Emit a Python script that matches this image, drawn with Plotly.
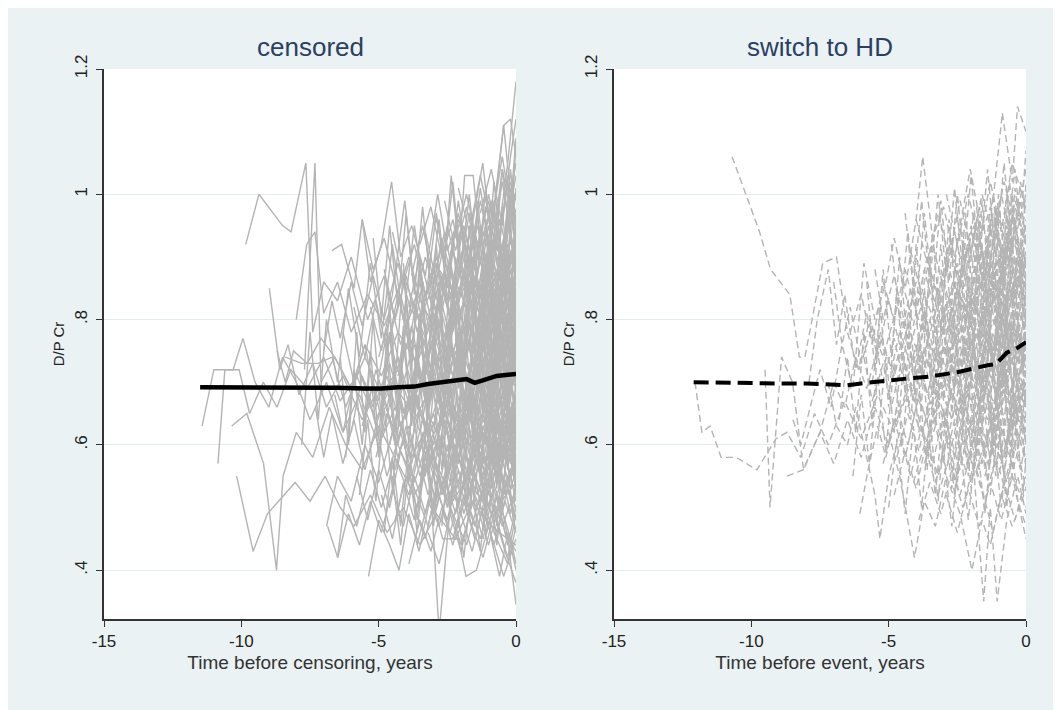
import plotly.graph_objects as go

# grey individual trajectories, (time, D/P Cr) pairs
censored_paths = [
    [(-9.84,.92),(-9.36,1.0),(-8.5,.95),(-8.19,.94),(-7.65,1.05),(-7.4,.78),(-7.0,.86),(-6.5,.83),(-6.0,.90),(-5.4,.80),(-4.8,.87),(-4.2,.76),(-3.6,.84),(-3.0,.79),(-2.4,.88),(-1.8,.82),(-1.2,.91),(-0.6,.85),(0,.93)],
    [(-11.43,.63),(-11.0,.72),(-10.08,.72),(-9.7,.65),(-9.2,.70),(-8.7,.66),(-8.2,.72),(-7.6,.69),(-7.0,.74),(-6.4,.67),(-5.8,.71),(-5.1,.64),(-4.5,.70),(-3.9,.66),(-3.2,.72),(-2.6,.68),(-1.9,.63),(-1.3,.69),(-0.7,.66),(0,.71)],
    [(-10.85,.57),(-10.6,.72),(-10.3,.72),(-9.94,.77),(-9.5,.70),(-9.0,.66),(-8.5,.74),(-8.0,.70),(-7.5,.64),(-6.9,.70),(-6.3,.62),(-5.7,.68),(-5.0,.60),(-4.4,.66),(-3.8,.58),(-3.1,.64),(-2.5,.59),(-1.8,.66),(-1.1,.61),(-0.5,.57),(0,.63)],
    [(-10.35,.63),(-9.8,.65),(-9.19,.57),(-8.72,.40),(-8.48,.55),(-8.0,.62),(-7.4,.58),(-6.8,.66),(-6.2,.60),(-5.6,.56),(-5.0,.63),(-4.3,.57),(-3.7,.52),(-3.0,.58),(-2.3,.51),(-1.6,.56),(-0.9,.49),(0,.54)],
    [(-10.17,.55),(-9.57,.43),(-9.05,.49),(-8.04,.54),(-7.5,.51),(-6.95,.55),(-6.4,.50),(-5.9,.47),(-5.3,.52),(-4.7,.46),(-4.1,.50),(-3.5,.44),(-2.9,.49),(-2.2,.45),(-1.6,.51),(-0.9,.47),(0,.44)],
    [(-8.98,.85),(-8.6,.72),(-8.3,.76),(-7.9,.68),(-7.4,.73),(-6.9,.66),(-6.3,.71),(-5.6,.64),(-5.0,.69),(-4.4,.62),(-3.7,.67),(-3.1,.61),(-2.4,.66),(-1.7,.60),(-1.0,.64),(0,.59)],
    [(-8.0,.80),(-7.62,.92),(-7.32,.94),(-7.0,.81),(-6.5,.86),(-6.0,.78),(-5.4,.84),(-4.8,.79),(-4.1,.87),(-3.5,.80),(-2.8,.88),(-2.1,.83),(-1.4,.90),(-0.7,.84),(0,.92)],
    [(-7.7,.72),(-7.32,1.05),(-7.1,.70),(-6.6,.74),(-6.0,.69),(-5.5,.76),(-4.9,.71),(-4.3,.78),(-3.6,.73),(-3.0,.81),(-2.3,.75),(-1.6,.83),(-0.8,.78),(0,.86)],
    [(-8.7,.75),(-8.4,.70),(-8.1,.75),(-7.6,.73),(-7.1,.77),(-6.6,.74),(-6.0,.69),(-5.5,.74),(-4.9,.68),(-4.3,.72),(-3.7,.64),(-3.0,.70),(-2.3,.62),(-1.6,.68),(-0.8,.60),(0,.66)],
    [(-8.4,.74),(-7.8,.73),(-7.2,.73),(-6.7,.74),(-6.2,.66),(-5.7,.72),(-5.2,.65),(-4.7,.71),(-4.2,.63),(-3.7,.69),(-3.2,.61),(-2.7,.67),(-2.2,.59),(-1.7,.65),(-1.2,.57),(-0.6,.63),(0,.56)],
    [(-7.8,.60),(-7.5,.78),(-7.2,.64),(-6.9,.80),(-6.5,.70),(-6.1,.85),(-5.7,.74),(-5.3,.89),(-4.9,.77),(-4.5,.92),(-4.1,.80),(-3.7,.95),(-3.3,.83),(-2.9,.97),(-2.5,.85),(-2.1,.99),(-1.7,.88),(-1.3,1.01),(-0.9,.90),(-0.5,1.04),(0,.93)],
    [(-7.3,.66),(-7.0,.58),(-6.7,.65),(-6.3,.57),(-5.9,.64),(-5.5,.56),(-5.1,.63),(-4.7,.55),(-4.2,.62),(-3.7,.54),(-3.2,.61),(-2.7,.53),(-2.2,.60),(-1.7,.52),(-1.2,.59),(-0.6,.51),(0,.57)],
    [(-7.0,.75),(-6.7,.83),(-6.4,.77),(-6.0,.86),(-5.6,.79),(-5.2,.87),(-4.8,.80),(-4.3,.89),(-3.8,.81),(-3.3,.90),(-2.8,.82),(-2.3,.91),(-1.8,.84),(-1.3,.93),(-0.8,.86),(-0.3,.95),(0,.89)],
    [(-6.86,.47),(-6.49,.42),(-6.1,.49),(-5.7,.44),(-5.3,.51),(-4.9,.46),(-4.5,.53),(-4.1,.47),(-3.7,.55),(-3.3,.49),(-2.9,.57),(-2.5,.50),(-2.1,.58),(-1.7,.52),(-1.3,.60),(-0.9,.53),(-0.5,.61),(0,.55)],
    [(-6.6,.68),(-6.3,.62),(-5.9,.70),(-5.5,.64),(-5.1,.72),(-4.7,.66),(-4.3,.74),(-3.9,.68),(-3.5,.76),(-3.1,.69),(-2.7,.77),(-2.3,.71),(-1.9,.79),(-1.5,.72),(-1.1,.80),(-0.7,.73),(-0.3,.81),(0,.76)],
    [(-6.9,.47),(-6.5,.55),(-6.0,.51),(-5.5,.60),(-5.0,.54),(-4.5,.62),(-4.0,.57),(-3.5,.66),(-3.0,.60),(-2.5,.69),(-2.0,.63),(-1.5,.72),(-1.0,.66),(-0.5,.74),(0,.69)],
    [(-6.7,.91),(-6.35,.92),(-5.9,.85),(-5.6,.96),(-5.2,.88),(-4.8,.93),(-4.3,.84),(-3.9,.90),(-3.4,.82),(-2.9,.89),(-2.4,.80),(-1.9,.87),(-1.4,.79),(-0.9,.86),(-0.4,.78),(0,.84)],
    [(-6.5,.42),(-6.2,.52),(-5.8,.47),(-5.3,.56),(-4.9,.50),(-4.4,.58),(-3.9,.52),(-3.4,.61),(-2.9,.55),(-2.4,.50),(-1.9,.57),(-1.4,.52),(-0.9,.60),(-0.4,.54),(0,.58)],
    [(-6.3,.78),(-5.9,.70),(-5.5,.76),(-5.1,.67),(-4.6,.73),(-4.1,.65),(-3.6,.72),(-3.1,.64),(-2.6,.70),(-2.1,.62),(-1.6,.69),(-1.1,.60),(-0.6,.67),(0,.61)],
    [(-6.0,.62),(-5.6,.71),(-5.2,.66),(-4.7,.78),(-4.3,.72),(-3.8,.83),(-3.3,.77),(-2.8,.86),(-2.3,.80),(-1.8,.90),(-1.3,.84),(-0.8,.93),(-0.3,.87),(0,.95)],
    [(-5.8,.55),(-5.4,.48),(-5.0,.56),(-4.6,.50),(-4.2,.59),(-3.7,.53),(-3.2,.47),(-2.8,.55),(-2.3,.49),(-1.8,.44),(-1.3,.52),(-0.8,.46),(-0.3,.41),(0,.47)],
    [(-5.6,.96),(-5.3,.86),(-4.9,.92),(-4.53,1.02),(-4.2,.90),(-3.8,.95),(-3.3,.87),(-2.85,1.0),(-2.5,.91),(-2.1,.96),(-1.6,.88),(-1.2,.94),(-0.7,.86),(-0.3,.92),(0,.88)],
    [(-5.5,.70),(-5.1,.63),(-4.7,.69),(-4.3,.61),(-3.9,.67),(-3.5,.59),(-3.0,.65),(-2.6,.57),(-2.1,.63),(-1.7,.56),(-1.2,.62),(-0.7,.55),(-0.3,.60),(0,.53)],
    [(-5.37,.39),(-5.0,.48),(-4.6,.44),(-4.26,.40),(-3.9,.49),(-3.53,.43),(-3.1,.52),(-2.67,.45),(-2.1,.45),(-1.82,.39),(-1.44,.40),(-1.0,.47),(-0.45,.39),(0,.45)],
    [(-5.3,.82),(-4.9,.75),(-4.5,.84),(-4.05,.99),(-3.7,.85),(-3.3,.78),(-2.9,.86),(-2.5,.79),(-2.0,.88),(-1.6,.81),(-1.1,.90),(-0.6,.83),(-0.2,.91),(0,.86)],
    [(-5.1,.58),(-4.7,.65),(-4.3,.60),(-3.9,.68),(-3.5,.62),(-3.1,.71),(-2.7,.65),(-2.3,.74),(-1.9,.67),(-1.5,.76),(-1.1,.70),(-0.7,.79),(-0.3,.72),(0,.80)],
    [(-5.0,.74),(-4.6,.80),(-4.2,.72),(-3.8,.79),(-3.4,.70),(-3.0,.77),(-2.6,.68),(-2.2,.75),(-1.8,.66),(-1.4,.73),(-1.0,.64),(-0.6,.71),(-0.2,.62),(0,.68)],
    [(-4.9,.52),(-4.5,.45),(-4.1,.54),(-3.7,.48),(-3.3,.57),(-2.9,.51),(-2.5,.60),(-2.1,.53),(-1.7,.62),(-1.3,.55),(-0.9,.64),(-0.5,.57),(0,.66)],
    [(-4.8,.88),(-4.4,.80),(-4.0,.87),(-3.6,.78),(-3.2,.85),(-2.8,.76),(-2.36,1.03),(-2.0,.88),(-1.6,.95),(-1.21,1.05),(-0.9,.93),(-0.45,1.11),(-0.2,1.0),(0,1.05)],
    [(-4.7,.66),(-4.3,.58),(-3.9,.63),(-3.5,.55),(-3.1,.61),(-2.7,.52),(-2.3,.58),(-1.9,.49),(-1.5,.55),(-1.1,.46),(-0.7,.52),(-0.3,.44),(0,.50)],
    [(-4.6,.60),(-4.2,.68),(-3.8,.75),(-3.4,.69),(-3.0,.78),(-2.6,.72),(-2.2,.81),(-1.8,.74),(-1.4,.84),(-1.0,.77),(-0.6,.87),(-0.2,.80),(0,.90)],
    [(-4.5,.94),(-4.1,.86),(-3.7,.92),(-3.3,.84),(-2.9,.90),(-2.5,.82),(-2.1,.89),(-1.87,1.03),(-1.56,1.03),(-1.3,.92),(-0.9,.98),(-0.5,.90),(-0.2,.97),(0,1.0)],
    [(-4.4,.48),(-4.0,.55),(-3.6,.50),(-3.2,.58),(-2.8,.52),(-2.4,.46),(-2.0,.53),(-1.6,.47),(-1.2,.42),(-0.8,.49),(-0.4,.43),(0,.38)],
    [(-4.3,.71),(-3.9,.77),(-3.5,.70),(-3.1,.76),(-2.7,.69),(-2.3,.75),(-1.9,.68),(-1.5,.74),(-1.1,.67),(-0.7,.73),(-0.3,.66),(0,.72)],
    [(-4.2,.63),(-3.8,.57),(-3.4,.64),(-3.0,.58),(-2.6,.66),(-2.2,.59),(-1.8,.67),(-1.4,.60),(-1.0,.69),(-0.6,.62),(-0.2,.70),(0,.64)],
    [(-3.9,.82),(-3.5,.90),(-3.1,.83),(-2.7,.93),(-2.3,.86),(-1.9,.95),(-1.5,.88),(-1.1,.98),(-0.7,.91),(-0.3,1.02),(0,.96)],
    [(-3.8,.55),(-3.4,.62),(-3.0,.56),(-2.6,.64),(-2.2,.58),(-1.8,.66),(-1.4,.60),(-1.0,.53),(-0.6,.61),(-0.2,.55),(0,.60)],
    [(-3.7,.76),(-3.3,.68),(-2.9,.74),(-2.5,.66),(-2.1,.72),(-1.7,.64),(-1.3,.70),(-0.9,.62),(-0.5,.68),(0,.74)],
    [(-3.6,.44),(-3.2,.51),(-2.8,.47),(-2.4,.54),(-2.0,.49),(-1.6,.57),(-1.2,.51),(-0.8,.59),(-0.4,.53),(0,.57)],
    [(-3.5,.92),(-3.1,.98),(-2.7,.90),(-2.3,.96),(-1.9,.87),(-1.5,.94),(-1.1,.85),(-0.7,.92),(-0.3,.84),(0,.90)],
    [(-3.4,.66),(-3.0,.72),(-2.6,.65),(-2.2,.73),(-1.8,.67),(-1.4,.75),(-1.0,.68),(-0.6,.76),(-0.2,.70),(0,.77)],
    [(-3.3,.58),(-2.9,.50),(-2.5,.57),(-2.1,.50),(-1.7,.58),(-1.3,.51),(-0.9,.59),(-0.5,.52),(0,.58)],
    [(-3.2,.86),(-2.8,.79),(-2.4,.88),(-2.0,.81),(-1.6,.90),(-1.2,.83),(-0.8,.92),(-0.4,.85),(0,.94)],
    [(-3.1,.70),(-2.7,.63),(-2.3,.71),(-1.9,.64),(-1.5,.72),(-1.1,.65),(-0.7,.73),(-0.3,.66),(0,.72)],
    [(-3.0,.48),(-2.6,.55),(-2.2,.49),(-1.8,.56),(-1.4,.50),(-1.0,.44),(-0.6,.51),(-0.2,.45),(0,.41)],
    [(-2.9,.96),(-2.5,.88),(-2.1,.97),(-1.7,.89),(-1.3,.99),(-0.9,.91),(-0.5,1.02),(-0.2,.94),(0,1.08)],
    [(-2.8,.62),(-2.4,.69),(-2.0,.61),(-1.6,.68),(-1.2,.60),(-0.8,.67),(-0.4,.59),(0,.65)],
    [(-2.7,.78),(-2.3,.71),(-1.9,.79),(-1.5,.72),(-1.1,.80),(-0.7,.73),(-0.3,.81),(0,.75)],
    [(-2.6,.53),(-2.2,.60),(-1.8,.54),(-1.4,.62),(-1.0,.56),(-0.6,.64),(-0.2,.57),(0,.62)],
    [(-2.5,.88),(-2.1,.80),(-1.7,.86),(-1.3,.78),(-0.9,.85),(-0.5,.77),(-0.1,.84),(0,.80)],
    [(-2.4,.68),(-2.0,.76),(-1.6,.70),(-1.2,.78),(-0.8,.71),(-0.4,.79),(0,.72)],
    [(-2.3,.45),(-1.9,.52),(-1.5,.47),(-1.1,.54),(-0.7,.48),(-0.3,.42),(0,.49)],
    [(-2.2,.93),(-1.8,1.00),(-1.4,.92),(-1.0,.99),(-0.6,.90),(-0.2,.98),(0,1.03)],
    [(-2.1,.60),(-1.7,.66),(-1.3,.58),(-0.9,.65),(-0.5,.57),(-0.1,.64),(0,.60)],
    [(-2.0,.74),(-1.6,.66),(-1.2,.73),(-0.8,.65),(-0.4,.72),(0,.67)],
    [(-1.9,.83),(-1.5,.76),(-1.1,.84),(-0.7,.77),(-0.3,.86),(0,.79)],
    [(-1.8,.51),(-1.4,.58),(-1.0,.52),(-0.6,.59),(-0.2,.53),(0,.56)],
    [(-1.7,.64),(-1.3,.71),(-0.9,.63),(-0.5,.70),(-0.1,.62),(0,.68)],
    [(-1.6,.90),(-1.2,.82),(-0.8,.89),(-0.4,.81),(0,.87)],
    [(-1.5,.70),(-1.1,.77),(-0.7,.69),(-0.3,.76),(0,.71)],
    [(-1.4,.57),(-1.0,.50),(-0.6,.57),(-0.2,.49),(0,.54)],
    [(-1.3,.97),(-0.9,1.04),(-0.5,.95),(-0.2,1.06),(0,1.12)],
    [(-1.2,.76),(-0.8,.83),(-0.4,.75),(0,.82)],
    [(-1.1,.62),(-0.7,.55),(-0.3,.63),(0,.58)],
    [(-1.0,.86),(-0.6,.79),(-0.2,.88),(0,.83)],
    [(-0.9,.45),(-0.6,.39),(-0.3,.46),(0,.40)],
    [(-0.5,.66),(-0.2,.74),(0,.69)],
    [(-3.9,.62),(-3.6,.69),(-3.2,.74),(-2.8,.67),(-2.4,.77),(-2.0,.70),(-1.6,.79),(-1.2,.73),(-0.8,.82),(-0.4,.75),(0,.84)],
    [(-3.7,.50),(-3.3,.45),(-2.9,.53),(-2.5,.48),(-2.1,.56),(-1.7,.50),(-1.3,.45),(-0.9,.52),(-0.5,.47),(0,.53)],
    [(-3.5,.79),(-3.1,.72),(-2.7,.81),(-2.3,.74),(-1.9,.83),(-1.5,.76),(-1.1,.85),(-0.7,.78),(-0.3,.88),(0,.82)],
    [(-3.3,.94),(-2.9,.86),(-2.5,.95),(-2.1,.87),(-1.7,.97),(-1.3,.89),(-0.9,.99),(-0.5,.91),(-0.2,1.0),(0,.97)],
    [(-3.1,.57),(-2.7,.64),(-2.3,.59),(-1.9,.53),(-1.5,.61),(-1.1,.55),(-0.7,.63),(-0.3,.57),(0,.51)],
    [(-2.9,.73),(-2.5,.79),(-2.1,.70),(-1.7,.77),(-1.3,.68),(-0.9,.75),(-0.5,.66),(-0.1,.73),(0,.70)],
    [(-2.7,.91),(-2.3,.84),(-1.9,.92),(-1.5,.85),(-1.1,.94),(-0.7,.87),(-0.3,.96),(0,.90)],
    [(-2.5,.64),(-2.1,.57),(-1.7,.65),(-1.3,.58),(-0.9,.66),(-0.5,.59),(-0.1,.67),(0,.63)],
    [(-3.2,.60),(-2.8,.30),(-2.4,.50),(-2.0,.44),(-1.5,.52),(-1.0,.47),(-0.5,.55),(0,.50)],
    [(-0.6,.52),(-0.3,.45),(0,.345)],
    [(-0.6,.95),(-0.3,1.05),(0,1.18)],
    [(-0.8,.98),(-0.45,1.11),(-0.2,1.12),(0,1.06)],
    [(-4.0,.73),(-3.6,.66),(-3.3,.75),(-2.9,.69),(-2.5,.78),(-2.1,.71),(-1.7,.80),(-1.3,.74),(-0.9,.83),(-0.5,.76),(0,.85)],
    [(-3.8,.87),(-3.4,.95),(-3.0,.86),(-2.6,.94),(-2.2,.85),(-1.8,.93),(-1.4,.84),(-1.0,.95),(-0.6,.87),(-0.2,.97),(0,.92)],
    [(-3.6,.59),(-3.2,.52),(-2.8,.60),(-2.4,.54),(-2.0,.62),(-1.6,.55),(-1.2,.63),(-0.8,.56),(-0.4,.64),(0,.59)],
    [(-3.4,.72),(-3.0,.80),(-2.6,.73),(-2.2,.81),(-1.8,.74),(-1.4,.82),(-1.0,.75),(-0.6,.84),(-0.2,.77),(0,.81)],
    [(-3.2,.46),(-2.8,.41),(-2.4,.49),(-2.0,.43),(-1.6,.51),(-1.2,.45),(-0.8,.53),(-0.4,.46),(0,.43)],
    [(-3.0,.83),(-2.6,.76),(-2.2,.84),(-1.8,.77),(-1.4,.86),(-1.0,.79),(-0.6,.88),(-0.2,.81),(0,.86)],
    [(-2.8,.67),(-2.4,.60),(-2.0,.68),(-1.6,.61),(-1.2,.69),(-0.8,.62),(-0.4,.70),(0,.64)],
    [(-2.6,.99),(-2.2,.91),(-1.8,.98),(-1.4,.90),(-1.0,1.0),(-0.6,.92),(-0.3,1.03),(0,.99)],
    [(-2.4,.56),(-2.0,.63),(-1.6,.57),(-1.2,.65),(-0.8,.58),(-0.4,.66),(0,.61)],
    [(-2.2,.77),(-1.8,.70),(-1.4,.79),(-1.0,.72),(-0.6,.81),(-0.2,.74),(0,.78)],
    [(-2.0,.49),(-1.6,.43),(-1.2,.50),(-0.8,.44),(-0.4,.51),(0,.46)],
    [(-1.8,.88),(-1.4,.95),(-1.0,.87),(-0.6,.96),(-0.2,.89),(0,.94)],
    [(-1.6,.62),(-1.2,.69),(-0.8,.61),(-0.4,.68),(0,.62)],
    [(-1.4,.80),(-1.0,.73),(-0.6,.82),(-0.2,.75),(0,.79)],
    [(-1.2,.53),(-0.8,.60),(-0.4,.52),(0,.57)],
    [(-1.0,.69),(-0.6,.76),(-0.2,.68),(0,.73)],
    [(-0.8,.92),(-0.5,.84),(-0.2,.93),(0,.87)],
    [(-0.7,.58),(-0.4,.65),(0,.60)],
    [(-4.6,.77),(-4.2,.84),(-3.8,.76),(-3.4,.86),(-3.0,.78),(-2.6,.88),(-2.2,.80),(-1.8,.89),(-1.4,.82),(-1.0,.91),(-0.6,.83),(-0.2,.93),(0,.88)],
    [(-4.4,.56),(-4.0,.63),(-3.6,.57),(-3.2,.65),(-2.8,.58),(-2.4,.66),(-2.0,.59),(-1.6,.67),(-1.2,.60),(-0.8,.68),(-0.4,.61),(0,.66)],
    [(-5.6,.63),(-5.2,.70),(-4.8,.62),(-4.4,.71),(-4.0,.64),(-3.6,.73),(-3.2,.65),(-2.8,.74),(-2.4,.66),(-2.0,.75),(-1.6,.67),(-1.2,.76),(-0.8,.68),(-0.4,.77),(0,.70)],
    [(-5.9,.82),(-5.5,.74),(-5.1,.83),(-4.7,.75),(-4.3,.84),(-3.9,.76),(-3.5,.86),(-3.1,.77),(-2.7,.87),(-2.3,.78),(-1.9,.88),(-1.5,.80),(-1.1,.90),(-0.7,.81),(-0.3,.91),(0,.84)],
    [(-3.9,.41),(-3.5,.48),(-3.1,.43),(-2.7,.50),(-2.3,.44),(-1.9,.51),(-1.5,.45),(-1.1,.52),(-0.7,.46),(-0.3,.53),(0,.48)],
    [(-2.1,1.01),(-1.7,.94),(-1.3,1.03),(-0.9,.95),(-0.5,1.06),(-0.2,.98),(0,1.09)],
    [(-2.9,.58),(-2.6,.72),(-2.3,.61),(-2.0,.77),(-1.7,.64),(-1.4,.80),(-1.1,.66),(-0.8,.83),(-0.5,.69),(-0.2,.85),(0,.74)],
    [(-2.8,.84),(-2.5,.68),(-2.2,.86),(-1.9,.70),(-1.6,.88),(-1.3,.72),(-1.0,.90),(-0.7,.74),(-0.4,.92),(0,.78)],
    [(-2.7,.47),(-2.4,.60),(-2.1,.50),(-1.8,.63),(-1.5,.52),(-1.2,.66),(-0.9,.54),(-0.6,.68),(-0.3,.56),(0,.70)],
    [(-2.6,.90),(-2.3,1.02),(-2.0,.89),(-1.7,1.0),(-1.4,.87),(-1.1,1.01),(-0.8,.88),(-0.5,1.04),(-0.2,.92),(0,1.01)],
    [(-2.5,.71),(-2.2,.55),(-1.9,.73),(-1.6,.57),(-1.3,.75),(-1.0,.58),(-0.7,.77),(-0.4,.60),(0,.79)],
    [(-2.4,.62),(-2.1,.78),(-1.8,.63),(-1.5,.81),(-1.2,.65),(-0.9,.84),(-0.6,.67),(-0.3,.87),(0,.71)],
    [(-2.3,.83),(-2.0,.95),(-1.7,.82),(-1.4,.97),(-1.1,.83),(-0.8,.99),(-0.5,.85),(-0.2,1.01),(0,.89)],
    [(-2.2,.52),(-1.9,.42),(-1.6,.54),(-1.3,.43),(-1.0,.55),(-0.7,.44),(-0.4,.56),(0,.46)],
    [(-2.1,.69),(-1.8,.84),(-1.5,.70),(-1.2,.86),(-0.9,.71),(-0.6,.88),(-0.3,.73),(0,.90)],
    [(-2.0,.58),(-1.7,.73),(-1.4,.59),(-1.1,.75),(-0.8,.61),(-0.5,.77),(-0.2,.62),(0,.70)],
    [(-1.9,.93),(-1.6,.81),(-1.3,.95),(-1.0,.83),(-0.7,.97),(-0.4,.85),(-0.1,1.0),(0,.92)],
    [(-1.8,.76),(-1.5,.61),(-1.2,.78),(-0.9,.62),(-0.6,.80),(-0.3,.64),(0,.82)],
    [(-1.7,.48),(-1.4,.62),(-1.1,.49),(-0.8,.64),(-0.5,.51),(-0.2,.66),(0,.55)],
    [(-1.6,.85),(-1.3,.70),(-1.0,.87),(-0.7,.71),(-0.4,.90),(-0.1,.74),(0,.85)],
    [(-1.5,.64),(-1.2,.79),(-0.9,.65),(-0.6,.81),(-0.3,.66),(0,.76)],
    [(-1.4,.99),(-1.1,.87),(-0.8,1.02),(-0.5,.89),(-0.2,1.04),(0,.95)],
    [(-1.3,.55),(-1.0,.68),(-0.7,.54),(-0.4,.70),(-0.1,.56),(0,.64)],
    [(-1.2,.72),(-0.9,.88),(-0.6,.73),(-0.3,.90),(0,.77)],
    [(-1.1,.81),(-0.8,.66),(-0.5,.83),(-0.2,.67),(0,.80)],
    [(-1.0,.60),(-0.7,.47),(-0.4,.62),(-0.1,.48),(0,.55)],
    [(-0.9,.73),(-0.6,.91),(-0.3,.78),(0,.96)],
    [(-0.7,.84),(-0.4,.68),(-0.1,.86),(0,.74)],
    [(-0.5,.50),(-0.3,.63),(0,.52)],
    [(-0.4,.88),(-0.2,1.0),(0,.91)],
    [(-4.9,.63),(-4.6,.78),(-4.3,.64),(-4.0,.80),(-3.7,.65),(-3.4,.82),(-3.1,.67),(-2.8,.84),(-2.5,.69),(-2.2,.86),(-1.9,.70),(-1.6,.88),(-1.3,.72),(-1.0,.89),(-0.7,.74),(-0.4,.91),(0,.77)],
    [(-4.7,.86),(-4.4,.70),(-4.1,.88),(-3.8,.72),(-3.5,.90),(-3.2,.73),(-2.9,.92),(-2.6,.75),(-2.3,.93),(-2.0,.77),(-1.7,.95),(-1.4,.78),(-1.1,.96),(-0.8,.80),(-0.5,.98),(-0.2,.82),(0,.95)],
    [(-4.5,.55),(-4.2,.44),(-3.9,.57),(-3.6,.46),(-3.3,.59),(-3.0,.47),(-2.7,.61),(-2.4,.49),(-2.1,.63),(-1.8,.50),(-1.5,.64),(-1.2,.52),(-0.9,.66),(-0.6,.53),(-0.3,.67),(0,.56)],
    [(-4.2,.74),(-3.9,.60),(-3.6,.76),(-3.3,.61),(-3.0,.78),(-2.7,.63),(-2.4,.80),(-2.1,.64),(-1.8,.82),(-1.5,.66),(-1.2,.84),(-0.9,.67),(-0.6,.85),(-0.3,.69),(0,.83)],
    [(-3.8,.67),(-3.5,.81),(-3.2,.66),(-2.9,.82),(-2.6,.68),(-2.3,.84),(-2.0,.69),(-1.7,.86),(-1.4,.71),(-1.1,.88),(-0.8,.72),(-0.5,.90),(-0.2,.74),(0,.84)],
    [(-3.5,.53),(-3.2,.66),(-2.9,.51),(-2.6,.67),(-2.3,.53),(-2.0,.69),(-1.7,.54),(-1.4,.70),(-1.1,.56),(-0.8,.72),(-0.5,.57),(-0.2,.73),(0,.62)],
    [(-5.3,.72),(-5.0,.58),(-4.7,.74),(-4.4,.60),(-4.1,.77),(-3.8,.63),(-3.5,.79),(-3.2,.64),(-2.9,.81),(-2.6,.66),(-2.3,.83),(-2.0,.67),(-1.7,.85),(-1.4,.69),(-1.1,.87),(-0.8,.70),(-0.5,.89),(0,.73)],
    [(-6.2,.58),(-5.9,.72),(-5.6,.60),(-5.3,.75),(-5.0,.61),(-4.7,.77),(-4.4,.62),(-4.1,.79),(-3.8,.64),(-3.5,.81),(-3.2,.65),(-2.9,.82),(-2.6,.67),(-2.3,.84),(-2.0,.68),(-1.7,.86),(-1.4,.70),(-1.1,.87),(-0.8,.71),(-0.5,.89),(0,.80)],
    [(-5.2,.93),(-4.9,.80),(-4.6,.95),(-4.3,.82),(-4.0,.97),(-3.7,.84),(-3.4,.98),(-3.1,.85),(-2.8,.96),(-2.5,.83),(-2.2,.95),(-1.9,.82),(-1.6,.94),(-1.3,.81),(-1.0,.93),(-0.7,.80),(-0.4,.92),(0,.87)],
    [(-4.8,.46),(-4.5,.58),(-4.2,.47),(-3.9,.60),(-3.6,.48),(-3.3,.61),(-3.0,.49),(-2.7,.62),(-2.4,.50),(-2.1,.63),(-1.8,.51),(-1.5,.64),(-1.2,.52),(-0.9,.65),(-0.6,.53),(-0.3,.66),(0,.54)],
    [(-4.1,.89),(-3.8,.74),(-3.5,.88),(-3.2,.73),(-2.9,.87),(-2.6,.72),(-2.3,.86),(-2.0,.71),(-1.7,.85),(-1.4,.70),(-1.1,.84),(-0.8,.69),(-0.5,.83),(0,.72)],
    [(-3.7,.58),(-3.4,.72),(-3.1,.57),(-2.8,.71),(-2.5,.56),(-2.2,.70),(-1.9,.55),(-1.6,.69),(-1.3,.54),(-1.0,.68),(-0.7,.53),(-0.4,.67),(0,.58)],
    [(-5.7,.52),(-5.4,.64),(-5.1,.51),(-4.8,.66),(-4.5,.53),(-4.2,.67),(-3.9,.54),(-3.6,.68),(-3.3,.55),(-3.0,.69),(-2.7,.56),(-2.4,.70),(-2.1,.57),(-1.8,.71),(-1.5,.58),(-1.2,.72),(-0.9,.59),(-0.6,.73),(0,.62)],
    [(-6.4,.74),(-6.1,.60),(-5.8,.78),(-5.5,.62),(-5.2,.80),(-4.9,.64),(-4.6,.82),(-4.3,.66),(-4.0,.83),(-3.7,.67),(-3.4,.84),(-3.1,.68),(-2.8,.85),(-2.5,.69),(-2.2,.86),(-1.9,.70),(-1.6,.87),(-1.3,.71),(-1.0,.88),(-0.7,.72),(0,.79)],
]

switch_paths = [
    [(-10.7,1.06),(-10.2,1.0),(-9.7,.94),(-9.3,.88),(-8.75,.85),(-8.6,.84),(-8.25,.74),(-8.05,.74),(-7.4,.89),(-6.9,.90),(-6.5,.78),(-6.1,.72),(-5.7,.80),(-5.2,.74),(-4.7,.82),(-4.2,.76),(-3.7,.84),(-3.2,.78),(-2.6,.86),(-2.0,.80),(-1.4,.88),(-0.8,.82),(0,.90)],
    [(-12.05,.70),(-11.8,.62),(-11.5,.63),(-11.1,.58),(-10.55,.58),(-9.8,.56),(-9.1,.61),(-8.7,.62),(-8.2,.58),(-7.7,.65),(-7.2,.60),(-6.6,.67),(-6.0,.61),(-5.4,.68),(-4.8,.62),(-4.2,.70),(-3.6,.64),(-3.0,.71),(-2.4,.65),(-1.8,.73),(-1.2,.67),(-0.6,.74),(0,.69)],
    [(-9.5,.72),(-9.32,.50),(-8.9,.74),(-8.5,.70),(-8.1,.56),(-7.5,.62),(-7.0,.57),(-6.5,.64),(-6.0,.58),(-5.5,.66),(-5.0,.60),(-4.4,.68),(-3.8,.62),(-3.2,.70),(-2.6,.63),(-2.0,.71),(-1.4,.64),(-0.7,.72),(0,.66)],
    [(-8.7,.55),(-8.12,.56),(-7.5,.62),(-7.0,.70),(-6.6,.66),(-6.2,.74),(-5.8,.69),(-5.3,.77),(-4.8,.71),(-4.3,.79),(-3.8,.73),(-3.3,.81),(-2.8,.75),(-2.3,.83),(-1.8,.77),(-1.3,.85),(-0.8,.79),(-0.3,.87),(0,.82)],
    [(-8.48,.64),(-8.2,.60),(-7.8,.67),(-7.5,.72),(-7.1,.66),(-6.7,.76),(-6.3,.69),(-5.9,.89),(-5.5,.80),(-5.1,.86),(-4.8,.93),(-4.4,.85),(-4.0,.96),(-3.76,1.06),(-3.4,.93),(-3.0,.98),(-2.6,.90),(-2.03,1.04),(-1.6,.94),(-1.2,.99),(-0.86,1.13),(-0.5,1.02),(-0.31,1.14),(0,1.10)],
    [(-7.2,.70),(-6.9,.63),(-6.5,.60),(-6.2,.66),(-5.8,.58),(-5.5,.52),(-5.32,.45),(-5.0,.55),(-4.6,.62),(-4.2,.55),(-3.8,.63),(-3.4,.57),(-3.0,.65),(-2.6,.58),(-2.2,.66),(-1.8,.59),(-1.4,.67),(-1.0,.60),(-0.5,.68),(0,.62)],
    [(-6.05,.49),(-5.75,.56),(-5.4,.63),(-5.1,.58),(-4.7,.66),(-4.3,.60),(-3.9,.68),(-3.5,.62),(-3.1,.70),(-2.7,.64),(-2.3,.72),(-1.9,.66),(-1.5,.74),(-1.1,.68),(-0.7,.76),(-0.3,.70),(0,.77)],
    [(-6.4,.78),(-6.0,.84),(-5.6,.76),(-5.2,.86),(-4.8,.80),(-4.4,.88),(-4.0,.81),(-3.6,.90),(-3.2,.83),(-2.8,.92),(-2.4,.85),(-2.0,.94),(-1.6,.87),(-1.2,.96),(-0.8,.89),(-0.4,.98),(0,.92)],
    [(-5.0,.62),(-4.6,.55),(-4.06,.42),(-3.7,.51),(-3.3,.47),(-2.9,.55),(-2.4,.49),(-1.97,.40),(-1.6,.48),(-1.3,.44),(-0.9,.52),(-0.5,.47),(0,.53)],
    [(-4.9,.70),(-4.5,.77),(-4.1,.71),(-3.7,.79),(-3.3,.73),(-2.9,.81),(-2.5,.74),(-2.1,.83),(-1.7,.76),(-1.3,.85),(-0.9,.78),(-0.5,.87),(0,.80)],
    [(-4.7,.58),(-4.3,.65),(-3.9,.59),(-3.5,.67),(-3.1,.61),(-2.7,.69),(-2.3,.62),(-1.9,.56),(-1.54,.35),(-1.3,.50),(-1.05,.35),(-0.7,.48),(-0.3,.55),(0,.49)],
    [(-4.5,.86),(-4.1,.79),(-3.7,.88),(-3.3,.81),(-2.9,.90),(-2.5,.83),(-2.1,.92),(-1.7,.85),(-1.3,.94),(-0.9,.87),(-0.5,.96),(0,.89)],
    [(-4.3,.66),(-3.9,.73),(-3.5,.67),(-3.1,.75),(-2.7,.68),(-2.3,.76),(-1.9,.70),(-1.5,.78),(-1.1,.71),(-0.7,.80),(-0.3,.73),(0,.78)],
    [(-4.1,.54),(-3.7,.60),(-3.3,.54),(-2.9,.61),(-2.5,.55),(-2.1,.62),(-1.7,.56),(-1.3,.63),(-0.9,.57),(-0.5,.64),(0,.58)],
    [(-4.0,.96),(-3.6,.89),(-3.2,.97),(-2.8,.90),(-2.4,.99),(-2.0,.91),(-1.6,1.0),(-1.2,.93),(-0.8,1.02),(-0.4,.95),(0,1.04)],
    [(-3.8,.75),(-3.4,.68),(-3.0,.76),(-2.6,.69),(-2.2,.77),(-1.8,.70),(-1.4,.78),(-1.0,.71),(-0.6,.79),(-0.2,.72),(0,.76)],
    [(-3.6,.61),(-3.2,.68),(-2.8,.62),(-2.4,.70),(-2.0,.63),(-1.6,.71),(-1.2,.64),(-0.8,.72),(-0.4,.65),(0,.70)],
    [(-3.4,.84),(-3.0,.78),(-2.6,.86),(-2.2,.79),(-1.8,.88),(-1.4,.81),(-1.0,.90),(-0.6,.83),(-0.2,.92),(0,.86)],
    [(-3.2,.52),(-2.8,.58),(-2.4,.52),(-2.0,.59),(-1.6,.53),(-1.2,.46),(-0.8,.54),(-0.4,.48),(0,.55)],
    [(-3.0,.70),(-2.6,.77),(-2.2,.70),(-1.8,.78),(-1.4,.71),(-1.0,.80),(-0.6,.73),(-0.2,.82),(0,.75)],
    [(-2.8,.93),(-2.4,.86),(-2.0,.95),(-1.6,.88),(-1.2,.97),(-0.8,.90),(-0.4,.99),(0,.94)],
    [(-2.6,.62),(-2.2,.56),(-1.8,.63),(-1.4,.57),(-1.0,.64),(-0.6,.58),(-0.2,.66),(0,.60)],
    [(-2.4,.79),(-2.0,.72),(-1.6,.80),(-1.2,.73),(-0.8,.82),(-0.4,.75),(0,.84)],
    [(-2.2,.67),(-1.8,.74),(-1.4,.67),(-1.0,.75),(-0.6,.68),(-0.2,.76),(0,.71)],
    [(-2.0,.86),(-1.6,.79),(-1.2,.88),(-0.8,.81),(-0.4,.90),(0,.85)],
    [(-1.8,.56),(-1.4,.62),(-1.0,.55),(-0.6,.63),(-0.2,.56),(0,.61)],
    [(-1.6,.73),(-1.2,.80),(-0.8,.72),(-0.4,.81),(0,.74)],
    [(-1.4,.91),(-1.0,.84),(-0.6,.93),(-0.2,.86),(0,.96)],
    [(-1.2,.64),(-0.8,.70),(-0.4,.63),(0,.68)],
    [(-1.0,.50),(-0.6,.57),(-0.3,.51),(0,.45)],
    [(-0.8,.78),(-0.4,.86),(0,.80)],
    [(-5.9,.74),(-5.6,.67),(-5.2,.73),(-4.9,.66),(-4.5,.74),(-4.1,.67),(-3.7,.75),(-3.3,.68),(-2.9,.76),(-2.5,.69),(-2.1,.77),(-1.7,.70),(-1.3,.78),(-0.9,.71),(-0.5,.79),(0,.73)],
    [(-5.5,.88),(-5.2,.80),(-4.8,.87),(-4.4,.79),(-4.0,.86),(-3.6,.78),(-3.2,.85),(-2.8,.77),(-2.4,.84),(-2.0,.76),(-1.6,.83),(-1.2,.75),(-0.8,.82),(-0.4,.74),(0,.81)],
    [(-5.2,.57),(-4.8,.64),(-4.4,.58),(-4.0,.66),(-3.6,.59),(-3.2,.67),(-2.8,.60),(-2.4,.68),(-2.0,.61),(-1.6,.69),(-1.2,.62),(-0.8,.70),(-0.4,.63),(0,.71)],
    [(-7.0,.86),(-6.7,.76),(-6.4,.82),(-6.0,.73),(-5.6,.79),(-5.2,.70),(-4.8,.77),(-4.4,.69),(-4.0,.76),(-3.6,.68),(-3.2,.75),(-2.8,.67),(-2.4,.74),(-2.0,.66),(-1.6,.73),(-1.2,.65),(-0.8,.72),(-0.4,.64),(0,.70)],
    [(-3.9,.48),(-3.5,.54),(-3.1,.49),(-2.7,.56),(-2.3,.50),(-1.9,.57),(-1.5,.51),(-1.1,.58),(-0.7,.52),(-0.3,.59),(0,.53)],
    [(-2.9,1.0),(-2.5,.92),(-2.1,1.0),(-1.7,.92),(-1.3,1.02),(-0.9,.94),(-0.5,1.05),(0,.98)],
    [(-7.9,.70),(-7.6,.80),(-7.2,.88),(-6.9,.76),(-6.6,.84),(-6.2,.72),(-5.8,.81),(-5.4,.74),(-5.0,.83),(-4.6,.76),(-4.2,.85),(-3.8,.78),(-3.4,.87),(-3.0,.80),(-2.5,.89),(-2.0,.82),(-1.5,.91),(-1.0,.84),(-0.5,.93),(0,.87)],
    [(-4.4,.73),(-4.0,.66),(-3.6,.74),(-3.2,.67),(-2.8,.75),(-2.4,.68),(-2.0,.77),(-1.6,.69),(-1.2,.78),(-0.8,.70),(-0.4,.79),(0,.72)],
    [(-4.2,.91),(-3.8,.84),(-3.4,.92),(-3.0,.85),(-2.6,.94),(-2.2,.86),(-1.8,.95),(-1.4,.87),(-1.0,.97),(-0.6,.89),(-0.2,.99),(0,.93)],
    [(-3.7,.57),(-3.3,.63),(-2.9,.56),(-2.5,.64),(-2.1,.57),(-1.7,.65),(-1.3,.58),(-0.9,.66),(-0.5,.59),(0,.64)],
    [(-3.5,.80),(-3.1,.73),(-2.7,.82),(-2.3,.74),(-1.9,.83),(-1.5,.76),(-1.1,.85),(-0.7,.77),(-0.3,.87),(0,.82)],
    [(-3.3,.64),(-2.9,.71),(-2.5,.64),(-2.1,.72),(-1.7,.65),(-1.3,.73),(-0.9,.66),(-0.5,.74),(0,.67)],
    [(-3.1,.88),(-2.7,.81),(-2.3,.89),(-1.9,.82),(-1.5,.91),(-1.1,.83),(-0.7,.93),(-0.3,.85),(0,.91)],
    [(-2.9,.52),(-2.5,.46),(-2.1,.53),(-1.7,.47),(-1.3,.54),(-0.9,.48),(-0.5,.55),(0,.50)],
    [(-2.7,.74),(-2.3,.67),(-1.9,.75),(-1.5,.68),(-1.1,.77),(-0.7,.69),(-0.3,.78),(0,.73)],
    [(-2.5,.96),(-2.1,.89),(-1.7,.98),(-1.3,.90),(-0.9,1.0),(-0.5,.92),(-0.2,1.02),(0,.97)],
    [(-2.3,.60),(-1.9,.66),(-1.5,.59),(-1.1,.67),(-0.7,.60),(-0.3,.68),(0,.63)],
    [(-2.1,.81),(-1.7,.74),(-1.3,.83),(-0.9,.75),(-0.5,.84),(0,.78)],
    [(-1.9,.69),(-1.5,.76),(-1.1,.68),(-0.7,.77),(-0.3,.70),(0,.74)],
    [(-1.7,.89),(-1.3,.82),(-0.9,.91),(-0.5,.83),(0,.89)],
    [(-1.5,.55),(-1.1,.61),(-0.7,.54),(-0.3,.62),(0,.57)],
    [(-1.3,.76),(-0.9,.69),(-0.5,.78),(0,.71)],
    [(-1.1,.95),(-0.7,.88),(-0.3,.97),(0,.92)],
    [(-4.8,.52),(-4.4,.59),(-4.0,.53),(-3.6,.61),(-3.2,.55),(-2.8,.62),(-2.4,.56),(-2.0,.64),(-1.6,.57),(-1.2,.65),(-0.8,.58),(-0.4,.66),(0,.61)],
    [(-5.6,.70),(-5.3,.78),(-4.9,.72),(-4.5,.80),(-4.1,.73),(-3.7,.81),(-3.3,.74),(-2.9,.83),(-2.5,.76),(-2.1,.85),(-1.7,.77),(-1.3,.86),(-0.9,.79),(-0.5,.88),(0,.83)],
    [(-2.9,.63),(-2.6,.78),(-2.3,.64),(-2.0,.80),(-1.7,.66),(-1.4,.82),(-1.1,.67),(-0.8,.84),(-0.5,.69),(-0.2,.86),(0,.75)],
    [(-2.7,.85),(-2.4,.70),(-2.1,.87),(-1.8,.72),(-1.5,.89),(-1.2,.73),(-0.9,.91),(-0.6,.75),(-0.3,.93),(0,.80)],
    [(-2.5,.54),(-2.2,.67),(-1.9,.55),(-1.6,.69),(-1.3,.57),(-1.0,.71),(-0.7,.58),(-0.4,.73),(0,.60)],
    [(-2.3,.94),(-2.0,.82),(-1.7,.96),(-1.4,.83),(-1.1,.98),(-0.8,.85),(-0.5,1.0),(-0.2,.87),(0,1.02)],
    [(-2.1,.70),(-1.8,.58),(-1.5,.72),(-1.2,.59),(-0.9,.74),(-0.6,.61),(-0.3,.76),(0,.64)],
    [(-1.9,.79),(-1.6,.92),(-1.3,.80),(-1.0,.94),(-0.7,.81),(-0.4,.96),(0,.85)],
    [(-1.7,.60),(-1.4,.73),(-1.1,.61),(-0.8,.75),(-0.5,.62),(-0.2,.77),(0,.66)],
    [(-1.5,.86),(-1.2,.71),(-0.9,.88),(-0.6,.72),(-0.3,.90),(0,.79)],
    [(-1.3,.52),(-1.0,.64),(-0.7,.50),(-0.4,.66),(-0.1,.52),(0,.58)],
    [(-1.1,.75),(-0.8,.88),(-0.5,.76),(-0.2,.90),(0,.81)],
    [(-0.9,.66),(-0.6,.80),(-0.3,.67),(0,.82)],
    [(-0.7,.93),(-0.4,1.04),(-0.2,.95),(0,1.07)],
    [(-4.6,.66),(-4.3,.80),(-4.0,.67),(-3.7,.82),(-3.4,.69),(-3.1,.84),(-2.8,.70),(-2.5,.86),(-2.2,.72),(-1.9,.88),(-1.6,.73),(-1.3,.90),(-1.0,.75),(-0.7,.92),(-0.4,.77),(0,.88)],
    [(-4.3,.83),(-4.0,.70),(-3.7,.85),(-3.4,.71),(-3.1,.87),(-2.8,.73),(-2.5,.89),(-2.2,.74),(-1.9,.91),(-1.6,.76),(-1.3,.93),(-1.0,.77),(-0.7,.95),(-0.4,.79),(0,.90)],
    [(-3.6,.64),(-3.3,.52),(-3.0,.66),(-2.7,.53),(-2.4,.68),(-2.1,.55),(-1.8,.70),(-1.5,.56),(-1.2,.72),(-0.9,.58),(-0.6,.74),(-0.3,.59),(0,.69)],
    [(-5.4,.61),(-5.1,.74),(-4.8,.62),(-4.5,.76),(-4.2,.64),(-3.9,.78),(-3.6,.65),(-3.3,.80),(-3.0,.67),(-2.7,.82),(-2.4,.68),(-2.1,.84),(-1.8,.70),(-1.5,.86),(-1.2,.71),(-0.9,.88),(-0.6,.73),(0,.77)],
    [(-6.3,.55),(-6.0,.68),(-5.7,.57),(-5.4,.71),(-5.1,.59),(-4.8,.73),(-4.5,.60),(-4.2,.75),(-3.9,.62),(-3.6,.77),(-3.3,.63),(-3.0,.79),(-2.7,.65),(-2.4,.81),(-2.1,.66),(-1.8,.83),(-1.5,.68),(-1.2,.84),(-0.9,.69),(-0.6,.86),(0,.74)],
    [(-5.8,.86),(-5.5,.72),(-5.2,.88),(-4.9,.74),(-4.6,.90),(-4.3,.75),(-4.0,.92),(-3.7,.77),(-3.4,.94),(-3.1,.78),(-2.8,.96),(-2.5,.80),(-2.2,.97),(-1.9,.81),(-1.6,.99),(-1.3,.83),(-1.0,1.0),(-0.7,.84),(-0.4,1.01),(0,.88)],
    [(-5.0,.50),(-4.7,.61),(-4.4,.49),(-4.1,.63),(-3.8,.50),(-3.5,.64),(-3.2,.51),(-2.9,.66),(-2.6,.52),(-2.3,.67),(-2.0,.53),(-1.7,.68),(-1.4,.54),(-1.1,.69),(-0.8,.55),(-0.5,.70),(0,.57)],
    [(-4.4,.97),(-4.1,.85),(-3.8,.99),(-3.5,.86),(-3.2,1.0),(-2.9,.87),(-2.6,1.01),(-2.3,.88),(-2.0,1.03),(-1.7,.89),(-1.4,1.04),(-1.1,.90),(-0.8,1.05),(-0.5,.91),(0,1.0)],
    [(-3.9,.70),(-3.6,.56),(-3.3,.72),(-3.0,.57),(-2.7,.73),(-2.4,.58),(-2.1,.75),(-1.8,.60),(-1.5,.76),(-1.2,.61),(-0.9,.78),(-0.6,.62),(-0.3,.79),(0,.67)],
    [(-3.4,.77),(-3.1,.92),(-2.8,.78),(-2.5,.93),(-2.2,.79),(-1.9,.95),(-1.6,.80),(-1.3,.96),(-1.0,.81),(-0.7,.97),(-0.4,.83),(0,.93)],
    [(-3.0,.58),(-2.7,.47),(-2.4,.60),(-2.1,.48),(-1.8,.61),(-1.5,.49),(-1.2,.62),(-0.9,.50),(-0.6,.63),(-0.3,.51),(0,.47)],
    [(-2.6,.72),(-2.3,.86),(-2.0,.73),(-1.7,.87),(-1.4,.74),(-1.1,.89),(-0.8,.75),(-0.5,.90),(-0.2,.76),(0,.86)],
    [(-2.2,.62),(-1.9,.76),(-1.6,.63),(-1.3,.78),(-1.0,.64),(-0.7,.79),(-0.4,.65),(0,.72)],
    [(-1.8,.98),(-1.5,.86),(-1.2,1.0),(-0.9,.87),(-0.6,1.02),(-0.3,.89),(0,.99)],
    [(-1.4,.68),(-1.1,.55),(-0.8,.69),(-0.5,.56),(-0.2,.70),(0,.62)],
    [(-1.0,.84),(-0.7,.70),(-0.4,.86),(-0.1,.72),(0,.80)],
    [(-0.6,.58),(-0.3,.70),(0,.56)],
    [(-6.8,.64),(-6.5,.74),(-6.2,.62),(-5.9,.78),(-5.6,.63),(-5.3,.82),(-5.0,.66),(-4.7,.85),(-4.4,.68),(-4.1,.87),(-3.8,.70),(-3.5,.89),(-3.2,.72),(-2.9,.90),(-2.6,.73),(-2.3,.92),(-2.0,.75),(-1.7,.93),(-1.4,.76),(-1.1,.95),(-0.8,.78),(-0.5,.96),(0,.84)],
    [(-4.9,.92),(-4.6,.80),(-4.3,.94),(-4.0,.82),(-3.7,.97),(-3.4,.84),(-3.1,.99),(-2.8,.86),(-2.5,1.0),(-2.2,.87),(-1.9,.97),(-1.6,.85),(-1.3,.98),(-1.0,.86),(-0.7,1.0),(-0.4,.88),(0,.95)],
]

# black average curves
censored_mean_t = [-11.5, -10.5, -9.5, -8.5, -7.5, -6.5, -5.5, -4.9, -4.3, -3.7, -3.2, -2.5, -1.8, -1.5, -1.2, -0.7, -0.3, 0]
censored_mean_v = [.692, .692, .692, .692, .692, .691, .690, .690, .692, .693, .697, .701, .705, .699, .703, .710, .712, .713]
switch_mean_t = [-12.1, -11, -10, -9, -8, -7, -6.5, -6, -5.1, -4.3, -3.5, -2.5, -1.4, -1.1, -0.7, -0.3, 0]
switch_mean_v = [.700, .699, .698, .698, .698, .696, .695, .698, .703, .706, .709, .716, .727, .729, .747, .755, .764]

panel_titles = ["censored", "switch to HD"]
x_titles = ["Time before censoring, years", "Time before event, years"]
y_tickvals = [.4, .6, .8, 1, 1.2]
y_ticktext = [".4", ".6", ".8", "1", "1.2"]
x_tickvals = [-15, -10, -5, 0]
x_ticktext = ["-15", "-10", "-5", "0"]

GREY = "#b4b4b4"
BG = "#eaf2f3"
FONT = "Liberation Sans, Arial, sans-serif"


def _flatten(paths):
    xs, ys = [], []
    for p in paths:
        for t, v in p:
            xs.append(t)
            ys.append(v)
        xs.append(None)
        ys.append(None)
    return xs, ys


fig = go.Figure()

cx, cy = _flatten(censored_paths)
fig.add_trace(go.Scatter(x=cx, y=cy, mode="lines", line=dict(color=GREY, width=1.4),
                         xaxis="x", yaxis="y", hoverinfo="skip", connectgaps=False))
fig.add_trace(go.Scatter(x=censored_mean_t, y=censored_mean_v, mode="lines",
                         line=dict(color="black", width=4.5), xaxis="x", yaxis="y"))

sx, sy = _flatten(switch_paths)
fig.add_trace(go.Scatter(x=sx, y=sy, mode="lines", line=dict(color=GREY, width=1.4, dash="7px,4px"),
                         xaxis="x2", yaxis="y2", hoverinfo="skip", connectgaps=False))
fig.add_trace(go.Scatter(x=switch_mean_t, y=switch_mean_v, mode="lines",
                         line=dict(color="black", width=4, dash="15px,7px"), xaxis="x2", yaxis="y2"))

# the page itself adds an 8px white border, so the figure is 8px smaller
FW, FH = 1045, 702
L, R, T, B = 96, 27, 61, 91
W, H = FW - L - R, FH - T - B

xaxis_style = dict(range=[-15, 0], tickvals=x_tickvals, ticktext=x_ticktext, ticks="outside", ticklen=6,
                   tickwidth=1.3, tickcolor="#333", showline=True, linecolor="#333", linewidth=1.6,
                   showgrid=False, zeroline=False, tickfont=dict(size=17, color="#222"),
                   title_font=dict(size=19, color="#333"), title_standoff=5)
yaxis_style = dict(range=[0.322, 1.2], tickvals=y_tickvals, ticktext=y_ticktext, ticks="outside",
                   ticklen=6, tickwidth=1.3, tickcolor="#333", showline=True, linecolor="#333",
                   linewidth=1.6, showgrid=True, gridcolor="#e2ecef", gridwidth=1, zeroline=False,
                   tickangle=-90, ticklabelstandoff=2, tickfont=dict(size=17, color="#222"),
                   title=dict(text="D/P Cr", font=dict(size=15, color="#222"), standoff=4))

fig.update_layout(
    width=FW, height=FH,
    margin=dict(l=L, r=R, t=T, b=B),
    paper_bgcolor=BG, plot_bgcolor="white",
    font=dict(family=FONT),
    showlegend=False,
    xaxis=dict(domain=[0, 412 / W], anchor="y", title_text=x_titles[0], **xaxis_style),
    yaxis=dict(domain=[0, 1], anchor="x", **yaxis_style),
    xaxis2=dict(domain=[510 / W, 1], anchor="y2", title_text=x_titles[1], **xaxis_style),
    yaxis2=dict(domain=[0, 1], anchor="x2", **yaxis_style),
    annotations=[
        dict(text=panel_titles[0], xref="x domain", yref="paper", x=0.5, y=1 + 22 / H,
             showarrow=False, font=dict(size=26, color="#2b3f63"), yanchor="middle"),
        dict(text=panel_titles[1], xref="x2 domain", yref="paper", x=0.5, y=1 + 22 / H,
             showarrow=False, font=dict(size=26, color="#2b3f63"), yanchor="middle"),
    ],
)

fig.write_html("out.html")
